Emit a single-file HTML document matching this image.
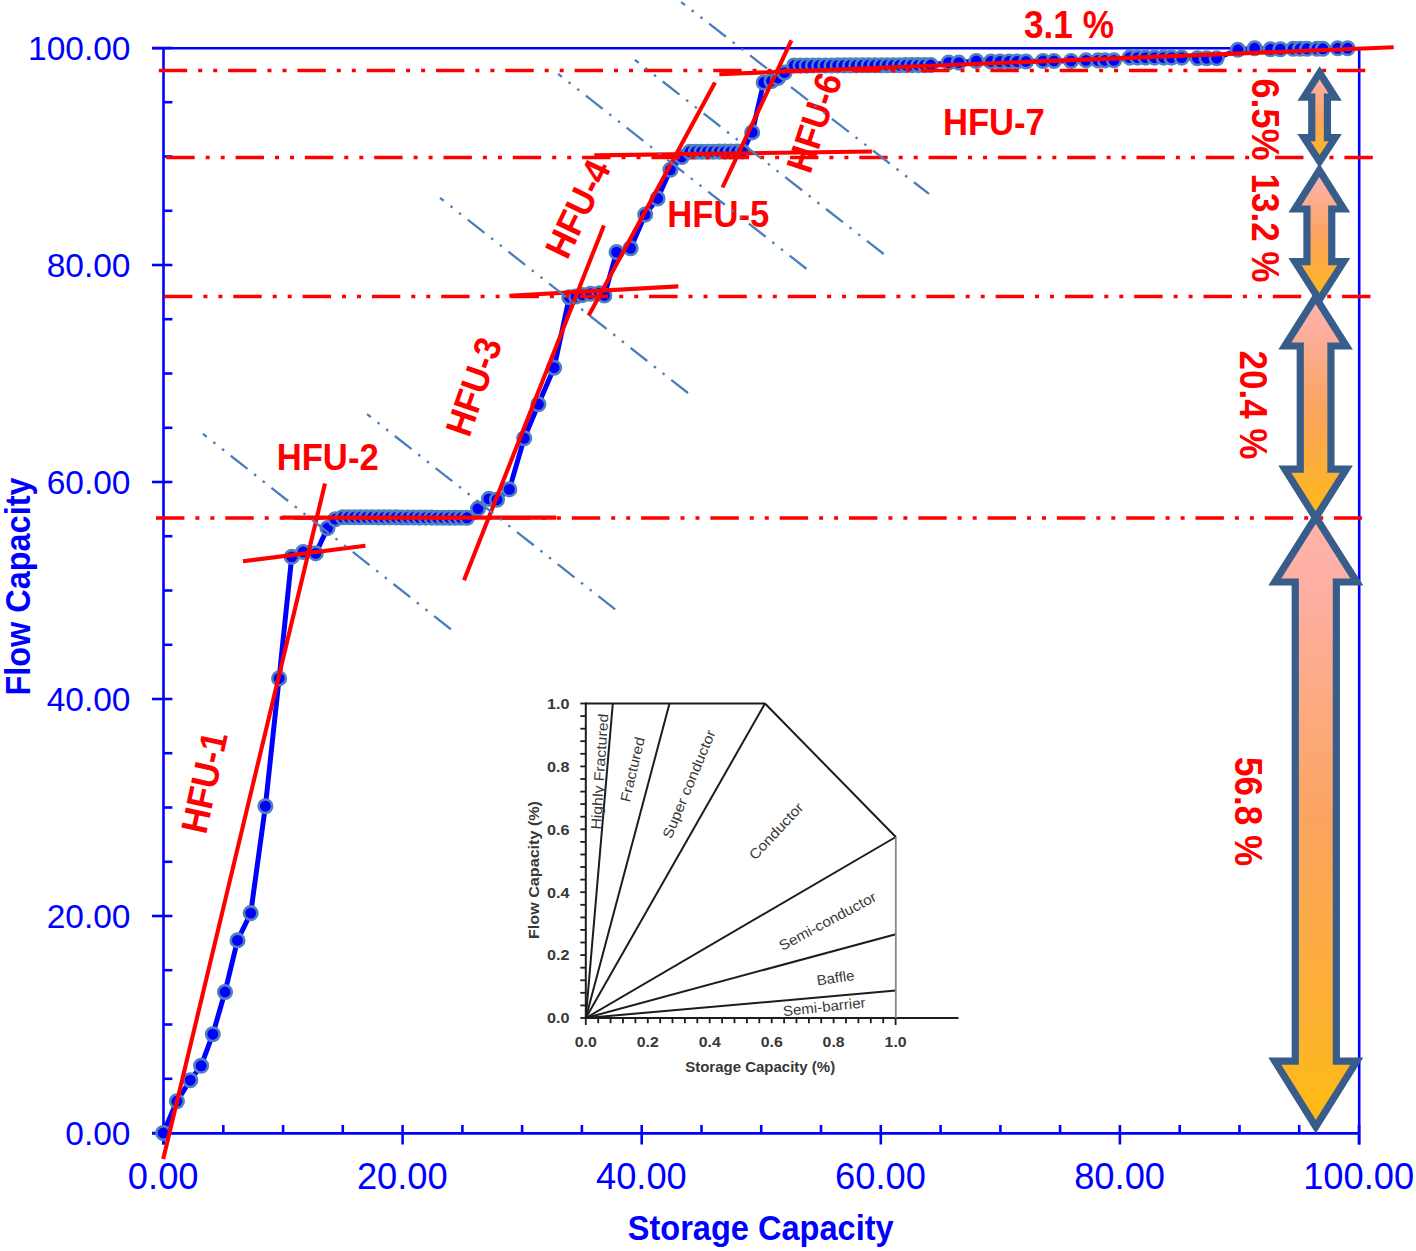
<!DOCTYPE html><html><head><meta charset="utf-8"><style>html,body{margin:0;padding:0;background:#fff;overflow:hidden}svg{display:block}</style></head><body><svg width="1416" height="1251" viewBox="0 0 1416 1251">
<defs><linearGradient id="g" x1="0" y1="0" x2="0" y2="1"><stop offset="0" stop-color="#FFB3AB"/><stop offset="0.12" stop-color="#FDAFA2"/><stop offset="0.5" stop-color="#FBA45F"/><stop offset="0.85" stop-color="#FDB22E"/><stop offset="1" stop-color="#FEBC0F"/></linearGradient></defs>
<rect width="1416" height="1251" fill="#fff"/>
<g stroke="#0000FF" stroke-width="2.6" fill="none">
<line x1="152" y1="48.2" x2="1359.2" y2="48.2"/>
<line x1="1359.2" y1="48.2" x2="1359.2" y2="1144.5"/>
<line x1="163.5" y1="47" x2="163.5" y2="1144.5"/>
<line x1="152" y1="1133.4" x2="1360" y2="1133.4"/>
<line x1="152" y1="1133.0" x2="172.4" y2="1133.0"/>
<line x1="163.5" y1="1078.8" x2="172.4" y2="1078.8"/>
<line x1="163.5" y1="1024.5" x2="172.4" y2="1024.5"/>
<line x1="163.5" y1="970.2" x2="172.4" y2="970.2"/>
<line x1="152" y1="916.0" x2="172.4" y2="916.0"/>
<line x1="163.5" y1="861.8" x2="172.4" y2="861.8"/>
<line x1="163.5" y1="807.5" x2="172.4" y2="807.5"/>
<line x1="163.5" y1="753.2" x2="172.4" y2="753.2"/>
<line x1="152" y1="699.0" x2="172.4" y2="699.0"/>
<line x1="163.5" y1="644.8" x2="172.4" y2="644.8"/>
<line x1="163.5" y1="590.5" x2="172.4" y2="590.5"/>
<line x1="163.5" y1="536.2" x2="172.4" y2="536.2"/>
<line x1="152" y1="482.0" x2="172.4" y2="482.0"/>
<line x1="163.5" y1="427.8" x2="172.4" y2="427.8"/>
<line x1="163.5" y1="373.5" x2="172.4" y2="373.5"/>
<line x1="163.5" y1="319.2" x2="172.4" y2="319.2"/>
<line x1="152" y1="265.0" x2="172.4" y2="265.0"/>
<line x1="163.5" y1="210.8" x2="172.4" y2="210.8"/>
<line x1="163.5" y1="156.5" x2="172.4" y2="156.5"/>
<line x1="163.5" y1="102.2" x2="172.4" y2="102.2"/>
<line x1="152" y1="48.0" x2="172.4" y2="48.0"/>
<line x1="163.5" y1="1125" x2="163.5" y2="1144.5"/>
<line x1="223.3" y1="1125" x2="223.3" y2="1133.0"/>
<line x1="283.1" y1="1125" x2="283.1" y2="1133.0"/>
<line x1="342.8" y1="1125" x2="342.8" y2="1133.0"/>
<line x1="402.6" y1="1125" x2="402.6" y2="1144.5"/>
<line x1="462.4" y1="1125" x2="462.4" y2="1133.0"/>
<line x1="522.1" y1="1125" x2="522.1" y2="1133.0"/>
<line x1="581.9" y1="1125" x2="581.9" y2="1133.0"/>
<line x1="641.7" y1="1125" x2="641.7" y2="1144.5"/>
<line x1="701.5" y1="1125" x2="701.5" y2="1133.0"/>
<line x1="761.2" y1="1125" x2="761.2" y2="1133.0"/>
<line x1="821.0" y1="1125" x2="821.0" y2="1133.0"/>
<line x1="880.8" y1="1125" x2="880.8" y2="1144.5"/>
<line x1="940.6" y1="1125" x2="940.6" y2="1133.0"/>
<line x1="1000.4" y1="1125" x2="1000.4" y2="1133.0"/>
<line x1="1060.1" y1="1125" x2="1060.1" y2="1133.0"/>
<line x1="1119.9" y1="1125" x2="1119.9" y2="1144.5"/>
<line x1="1179.7" y1="1125" x2="1179.7" y2="1133.0"/>
<line x1="1239.5" y1="1125" x2="1239.5" y2="1133.0"/>
<line x1="1299.2" y1="1125" x2="1299.2" y2="1133.0"/>
<line x1="1359.0" y1="1125" x2="1359.0" y2="1144.5"/>
</g>
<g font-family="Liberation Sans" fill="#0000FF" font-size="33.5">
<text x="130.5" y="1144.7" text-anchor="end">0.00</text>
<text x="130.5" y="927.7" text-anchor="end">20.00</text>
<text x="130.5" y="710.7" text-anchor="end">40.00</text>
<text x="130.5" y="493.7" text-anchor="end">60.00</text>
<text x="130.5" y="276.7" text-anchor="end">80.00</text>
<text x="130.5" y="59.7" text-anchor="end">100.00</text>
</g>
<g font-family="Liberation Sans" fill="#0000FF" font-size="36.3" text-anchor="middle">
<text x="163.2" y="1189">0.00</text>
<text x="402.3" y="1189">20.00</text>
<text x="641.4" y="1189">40.00</text>
<text x="880.5" y="1189">60.00</text>
<text x="1119.6" y="1189">80.00</text>
<text x="1358.7" y="1189">100.00</text>
</g>
<text x="760.7" y="1240.2" font-family="Liberation Sans" font-weight="bold" font-size="34.5" fill="#0000FF" text-anchor="middle" textLength="266" lengthAdjust="spacingAndGlyphs">Storage Capacity</text>
<text transform="translate(30.4,586.5) rotate(-90)" font-family="Liberation Sans" font-weight="bold" font-size="35.5" fill="#0000FF" text-anchor="middle" textLength="218" lengthAdjust="spacingAndGlyphs">Flow Capacity</text>
<g stroke="#1c1c1c" stroke-width="2" fill="none" stroke-linecap="butt">
<line x1="585.8" y1="702.5" x2="585.8" y2="1018.0"/>
<line x1="585.8" y1="1018.0" x2="958.5" y2="1018.0"/>
<line x1="585.8" y1="703.5" x2="765" y2="703.5"/>
<line x1="765" y1="703.5" x2="895.8" y2="837"/>
<line x1="585.8" y1="1018.0" x2="612.8" y2="703.5"/>
<line x1="585.8" y1="1018.0" x2="669.5" y2="703.5"/>
<line x1="585.8" y1="1018.0" x2="765.0" y2="703.5"/>
<line x1="585.8" y1="1018.0" x2="895.8" y2="837.0"/>
<line x1="585.8" y1="1018.0" x2="895.8" y2="934.2"/>
<line x1="585.8" y1="1018.0" x2="895.8" y2="990.6"/>
<line x1="580.3" y1="1018.0" x2="585.8" y2="1018.0" stroke-width="1.8"/>
<line x1="585.8" y1="1018.0" x2="585.8" y2="1025" stroke-width="1.8"/>
<line x1="580.3" y1="1005.4" x2="585.8" y2="1005.4" stroke-width="1.8"/>
<line x1="598.2" y1="1018.0" x2="598.2" y2="1023.2" stroke-width="1.8"/>
<line x1="580.3" y1="992.8" x2="585.8" y2="992.8" stroke-width="1.8"/>
<line x1="610.6" y1="1018.0" x2="610.6" y2="1023.2" stroke-width="1.8"/>
<line x1="580.3" y1="980.3" x2="585.8" y2="980.3" stroke-width="1.8"/>
<line x1="623.0" y1="1018.0" x2="623.0" y2="1023.2" stroke-width="1.8"/>
<line x1="580.3" y1="967.7" x2="585.8" y2="967.7" stroke-width="1.8"/>
<line x1="635.4" y1="1018.0" x2="635.4" y2="1023.2" stroke-width="1.8"/>
<line x1="580.3" y1="955.1" x2="585.8" y2="955.1" stroke-width="1.8"/>
<line x1="647.8" y1="1018.0" x2="647.8" y2="1023.2" stroke-width="1.8"/>
<line x1="580.3" y1="942.5" x2="585.8" y2="942.5" stroke-width="1.8"/>
<line x1="660.2" y1="1018.0" x2="660.2" y2="1023.2" stroke-width="1.8"/>
<line x1="580.3" y1="929.9" x2="585.8" y2="929.9" stroke-width="1.8"/>
<line x1="672.5" y1="1018.0" x2="672.5" y2="1023.2" stroke-width="1.8"/>
<line x1="580.3" y1="917.4" x2="585.8" y2="917.4" stroke-width="1.8"/>
<line x1="684.9" y1="1018.0" x2="684.9" y2="1023.2" stroke-width="1.8"/>
<line x1="580.3" y1="904.8" x2="585.8" y2="904.8" stroke-width="1.8"/>
<line x1="697.3" y1="1018.0" x2="697.3" y2="1023.2" stroke-width="1.8"/>
<line x1="580.3" y1="892.2" x2="585.8" y2="892.2" stroke-width="1.8"/>
<line x1="709.7" y1="1018.0" x2="709.7" y2="1023.2" stroke-width="1.8"/>
<line x1="580.3" y1="879.6" x2="585.8" y2="879.6" stroke-width="1.8"/>
<line x1="722.1" y1="1018.0" x2="722.1" y2="1023.2" stroke-width="1.8"/>
<line x1="580.3" y1="867.0" x2="585.8" y2="867.0" stroke-width="1.8"/>
<line x1="734.5" y1="1018.0" x2="734.5" y2="1023.2" stroke-width="1.8"/>
<line x1="580.3" y1="854.5" x2="585.8" y2="854.5" stroke-width="1.8"/>
<line x1="746.9" y1="1018.0" x2="746.9" y2="1023.2" stroke-width="1.8"/>
<line x1="580.3" y1="841.9" x2="585.8" y2="841.9" stroke-width="1.8"/>
<line x1="759.3" y1="1018.0" x2="759.3" y2="1023.2" stroke-width="1.8"/>
<line x1="580.3" y1="829.3" x2="585.8" y2="829.3" stroke-width="1.8"/>
<line x1="771.7" y1="1018.0" x2="771.7" y2="1023.2" stroke-width="1.8"/>
<line x1="580.3" y1="816.7" x2="585.8" y2="816.7" stroke-width="1.8"/>
<line x1="784.1" y1="1018.0" x2="784.1" y2="1023.2" stroke-width="1.8"/>
<line x1="580.3" y1="804.1" x2="585.8" y2="804.1" stroke-width="1.8"/>
<line x1="796.5" y1="1018.0" x2="796.5" y2="1023.2" stroke-width="1.8"/>
<line x1="580.3" y1="791.6" x2="585.8" y2="791.6" stroke-width="1.8"/>
<line x1="808.9" y1="1018.0" x2="808.9" y2="1023.2" stroke-width="1.8"/>
<line x1="580.3" y1="779.0" x2="585.8" y2="779.0" stroke-width="1.8"/>
<line x1="821.2" y1="1018.0" x2="821.2" y2="1023.2" stroke-width="1.8"/>
<line x1="580.3" y1="766.4" x2="585.8" y2="766.4" stroke-width="1.8"/>
<line x1="833.6" y1="1018.0" x2="833.6" y2="1023.2" stroke-width="1.8"/>
<line x1="580.3" y1="753.8" x2="585.8" y2="753.8" stroke-width="1.8"/>
<line x1="846.0" y1="1018.0" x2="846.0" y2="1023.2" stroke-width="1.8"/>
<line x1="580.3" y1="741.2" x2="585.8" y2="741.2" stroke-width="1.8"/>
<line x1="858.4" y1="1018.0" x2="858.4" y2="1023.2" stroke-width="1.8"/>
<line x1="580.3" y1="728.7" x2="585.8" y2="728.7" stroke-width="1.8"/>
<line x1="870.8" y1="1018.0" x2="870.8" y2="1023.2" stroke-width="1.8"/>
<line x1="580.3" y1="716.1" x2="585.8" y2="716.1" stroke-width="1.8"/>
<line x1="883.2" y1="1018.0" x2="883.2" y2="1023.2" stroke-width="1.8"/>
<line x1="580.3" y1="703.5" x2="585.8" y2="703.5" stroke-width="1.8"/>
<line x1="895.6" y1="1018.0" x2="895.6" y2="1025" stroke-width="1.8"/>
</g>
<line x1="895.8" y1="837" x2="895.8" y2="1018" stroke="#888" stroke-width="1.8"/>
<g font-family="Liberation Sans" font-weight="bold" fill="#383838" font-size="14.6">
<text x="569.5" y="1023.3" text-anchor="end" textLength="22.5" lengthAdjust="spacingAndGlyphs">0.0</text>
<text x="585.8" y="1046.6" text-anchor="middle" textLength="22" lengthAdjust="spacingAndGlyphs">0.0</text>
<text x="569.5" y="960.4" text-anchor="end" textLength="22.5" lengthAdjust="spacingAndGlyphs">0.2</text>
<text x="647.8" y="1046.6" text-anchor="middle" textLength="22" lengthAdjust="spacingAndGlyphs">0.2</text>
<text x="569.5" y="897.5" text-anchor="end" textLength="22.5" lengthAdjust="spacingAndGlyphs">0.4</text>
<text x="709.7" y="1046.6" text-anchor="middle" textLength="22" lengthAdjust="spacingAndGlyphs">0.4</text>
<text x="569.5" y="834.6" text-anchor="end" textLength="22.5" lengthAdjust="spacingAndGlyphs">0.6</text>
<text x="771.7" y="1046.6" text-anchor="middle" textLength="22" lengthAdjust="spacingAndGlyphs">0.6</text>
<text x="569.5" y="771.7" text-anchor="end" textLength="22.5" lengthAdjust="spacingAndGlyphs">0.8</text>
<text x="833.6" y="1046.6" text-anchor="middle" textLength="22" lengthAdjust="spacingAndGlyphs">0.8</text>
<text x="569.5" y="708.8" text-anchor="end" textLength="22.5" lengthAdjust="spacingAndGlyphs">1.0</text>
<text x="895.6" y="1046.6" text-anchor="middle" textLength="22" lengthAdjust="spacingAndGlyphs">1.0</text>
</g>
<text x="760.2" y="1071.8" font-family="Liberation Sans" font-weight="bold" font-size="14.3" fill="#383838" text-anchor="middle" textLength="150" lengthAdjust="spacingAndGlyphs">Storage Capacity (%)</text>
<text transform="translate(538.6,870) rotate(-90)" font-family="Liberation Sans" font-weight="bold" font-size="14.3" fill="#383838" text-anchor="middle" textLength="138" lengthAdjust="spacingAndGlyphs">Flow Capacity (%)</text>
<text transform="translate(599.5,771.6) rotate(-86.2)" font-family="Liberation Sans" font-size="14.3" fill="#383838" text-anchor="middle" dy="5" textLength="116" lengthAdjust="spacingAndGlyphs">Highly  Fractured</text>
<text transform="translate(632.4,769.4) rotate(-76.7)" font-family="Liberation Sans" font-size="14.3" fill="#383838" text-anchor="middle" dy="5" textLength="66" lengthAdjust="spacingAndGlyphs">Fractured</text>
<text transform="translate(688.9,784.1) rotate(-67.4)" font-family="Liberation Sans" font-size="14.3" fill="#383838" text-anchor="middle" dy="5" textLength="116" lengthAdjust="spacingAndGlyphs">Super conductor</text>
<text transform="translate(776.1,831.1) rotate(-46.9)" font-family="Liberation Sans" font-size="14.3" fill="#383838" text-anchor="middle" dy="5" textLength="72" lengthAdjust="spacingAndGlyphs">Conductor</text>
<text transform="translate(827.6,921.1) rotate(-28.2)" font-family="Liberation Sans" font-size="14.3" fill="#383838" text-anchor="middle" dy="5" textLength="108" lengthAdjust="spacingAndGlyphs">Semi-conductor</text>
<text transform="translate(835.5,977.8) rotate(-8.4)" font-family="Liberation Sans" font-size="14.3" fill="#383838" text-anchor="middle" dy="5" textLength="38" lengthAdjust="spacingAndGlyphs">Baffle</text>
<text transform="translate(824.2,1006.7) rotate(-6.2)" font-family="Liberation Sans" font-size="14.3" fill="#383838" text-anchor="middle" dy="5" textLength="83" lengthAdjust="spacingAndGlyphs">Semi-barrier</text>
<polyline fill="none" stroke="#0000FF" stroke-width="5" stroke-linejoin="round" points="163.2,1133.0 176.9,1101.3 190.3,1080.2 201.1,1065.8 212.8,1034.2 225.0,992.0 237.5,940.4 250.7,913.1 265.4,806.2 279.1,678.4 291.7,556.9 303.2,552.0 315.7,553.4 327.5,528.1 335.2,519.2 342.9,517.3 348.6,517.2 354.5,517.2 360.4,517.3 366.4,517.3 372.3,517.3 378.2,517.4 384.1,517.4 390.0,517.4 396.0,517.4 401.9,517.5 407.8,517.5 413.7,517.5 419.6,517.6 425.6,517.6 431.5,517.6 437.4,517.7 443.3,517.7 449.2,517.7 455.2,517.7 461.1,517.8 467.0,517.8 478.0,508.6 488.9,498.9 497.0,499.7 509.3,489.4 524.2,438.3 538.4,404.3 554.1,367.7 569.3,297.2 576.0,296.5 582.5,295.0 590.6,293.7 599.5,293.2 604.4,295.5 616.6,252.1 630.6,248.3 645.2,214.6 657.6,198.5 670.4,169.8 681.8,157.0 690.0,151.8 695.8,151.8 701.7,151.7 707.5,151.7 713.3,151.7 719.2,151.6 725.0,151.6 730.8,151.6 736.7,151.5 742.5,151.5 752.2,132.4 763.7,82.5 771.6,81.0 778.0,78.0 784.6,72.6 794.2,65.5 800.5,65.6 806.7,65.6 812.9,65.5 819.1,65.5 825.3,65.5 831.5,65.5 837.7,65.4 843.9,65.4 850.1,65.4 856.3,65.4 862.5,65.3 868.7,65.3 874.9,65.3 881.1,65.2 887.3,65.2 893.5,65.2 899.7,65.2 905.9,65.1 912.1,65.1 918.3,65.1 924.5,65.1 930.7,65.0 948.6,62.6 958.8,62.6 976.3,61.0 991.0,61.5 1000.0,61.5 1009.0,61.5 1017.0,61.5 1026.0,61.5 1043.0,61.0 1054.0,61.0 1071.0,61.0 1086.0,60.4 1098.0,60.4 1105.0,60.4 1114.0,60.4 1129.7,57.6 1137.6,57.6 1145.5,57.6 1154.6,57.6 1163.6,57.6 1171.5,57.6 1181.7,57.6 1197.5,58.2 1206.6,58.2 1216.7,58.2 1237.9,49.8 1254.7,48.3 1270.5,49.3 1280.4,49.3 1293.2,48.8 1300.1,48.8 1307.1,48.8 1317.0,48.8 1322.9,48.8 1337.7,48.3 1347.6,48.3"/>
<g fill="#0000FF" stroke="#4F81BD" stroke-width="2.6">
<circle cx="163.2" cy="1133.0" r="6.75"/>
<circle cx="176.9" cy="1101.3" r="6.75"/>
<circle cx="190.3" cy="1080.2" r="6.75"/>
<circle cx="201.1" cy="1065.8" r="6.75"/>
<circle cx="212.8" cy="1034.2" r="6.75"/>
<circle cx="225.0" cy="992.0" r="6.75"/>
<circle cx="237.5" cy="940.4" r="6.75"/>
<circle cx="250.7" cy="913.1" r="6.75"/>
<circle cx="265.4" cy="806.2" r="6.75"/>
<circle cx="279.1" cy="678.4" r="6.75"/>
<circle cx="291.7" cy="556.9" r="6.75"/>
<circle cx="303.2" cy="552.0" r="6.75"/>
<circle cx="315.7" cy="553.4" r="6.75"/>
<circle cx="327.5" cy="528.1" r="6.75"/>
<circle cx="335.2" cy="519.2" r="6.75"/>
<circle cx="342.9" cy="517.3" r="6.75"/>
<circle cx="348.6" cy="517.2" r="6.75"/>
<circle cx="354.5" cy="517.2" r="6.75"/>
<circle cx="360.4" cy="517.3" r="6.75"/>
<circle cx="366.4" cy="517.3" r="6.75"/>
<circle cx="372.3" cy="517.3" r="6.75"/>
<circle cx="378.2" cy="517.4" r="6.75"/>
<circle cx="384.1" cy="517.4" r="6.75"/>
<circle cx="390.0" cy="517.4" r="6.75"/>
<circle cx="396.0" cy="517.4" r="6.75"/>
<circle cx="401.9" cy="517.5" r="6.75"/>
<circle cx="407.8" cy="517.5" r="6.75"/>
<circle cx="413.7" cy="517.5" r="6.75"/>
<circle cx="419.6" cy="517.6" r="6.75"/>
<circle cx="425.6" cy="517.6" r="6.75"/>
<circle cx="431.5" cy="517.6" r="6.75"/>
<circle cx="437.4" cy="517.7" r="6.75"/>
<circle cx="443.3" cy="517.7" r="6.75"/>
<circle cx="449.2" cy="517.7" r="6.75"/>
<circle cx="455.2" cy="517.7" r="6.75"/>
<circle cx="461.1" cy="517.8" r="6.75"/>
<circle cx="467.0" cy="517.8" r="6.75"/>
<circle cx="478.0" cy="508.6" r="6.75"/>
<circle cx="488.9" cy="498.9" r="6.75"/>
<circle cx="497.0" cy="499.7" r="6.75"/>
<circle cx="509.3" cy="489.4" r="6.75"/>
<circle cx="524.2" cy="438.3" r="6.75"/>
<circle cx="538.4" cy="404.3" r="6.75"/>
<circle cx="554.1" cy="367.7" r="6.75"/>
<circle cx="569.3" cy="297.2" r="6.75"/>
<circle cx="576.0" cy="296.5" r="6.75"/>
<circle cx="582.5" cy="295.0" r="6.75"/>
<circle cx="590.6" cy="293.7" r="6.75"/>
<circle cx="599.5" cy="293.2" r="6.75"/>
<circle cx="604.4" cy="295.5" r="6.75"/>
<circle cx="616.6" cy="252.1" r="6.75"/>
<circle cx="630.6" cy="248.3" r="6.75"/>
<circle cx="645.2" cy="214.6" r="6.75"/>
<circle cx="657.6" cy="198.5" r="6.75"/>
<circle cx="670.4" cy="169.8" r="6.75"/>
<circle cx="681.8" cy="157.0" r="6.75"/>
<circle cx="690.0" cy="151.8" r="6.75"/>
<circle cx="695.8" cy="151.8" r="6.75"/>
<circle cx="701.7" cy="151.7" r="6.75"/>
<circle cx="707.5" cy="151.7" r="6.75"/>
<circle cx="713.3" cy="151.7" r="6.75"/>
<circle cx="719.2" cy="151.6" r="6.75"/>
<circle cx="725.0" cy="151.6" r="6.75"/>
<circle cx="730.8" cy="151.6" r="6.75"/>
<circle cx="736.7" cy="151.5" r="6.75"/>
<circle cx="742.5" cy="151.5" r="6.75"/>
<circle cx="752.2" cy="132.4" r="6.75"/>
<circle cx="763.7" cy="82.5" r="6.75"/>
<circle cx="771.6" cy="81.0" r="6.75"/>
<circle cx="778.0" cy="78.0" r="6.75"/>
<circle cx="784.6" cy="72.6" r="6.75"/>
<circle cx="794.2" cy="65.5" r="6.75"/>
<circle cx="800.5" cy="65.6" r="6.75"/>
<circle cx="806.7" cy="65.6" r="6.75"/>
<circle cx="812.9" cy="65.5" r="6.75"/>
<circle cx="819.1" cy="65.5" r="6.75"/>
<circle cx="825.3" cy="65.5" r="6.75"/>
<circle cx="831.5" cy="65.5" r="6.75"/>
<circle cx="837.7" cy="65.4" r="6.75"/>
<circle cx="843.9" cy="65.4" r="6.75"/>
<circle cx="850.1" cy="65.4" r="6.75"/>
<circle cx="856.3" cy="65.4" r="6.75"/>
<circle cx="862.5" cy="65.3" r="6.75"/>
<circle cx="868.7" cy="65.3" r="6.75"/>
<circle cx="874.9" cy="65.3" r="6.75"/>
<circle cx="881.1" cy="65.2" r="6.75"/>
<circle cx="887.3" cy="65.2" r="6.75"/>
<circle cx="893.5" cy="65.2" r="6.75"/>
<circle cx="899.7" cy="65.2" r="6.75"/>
<circle cx="905.9" cy="65.1" r="6.75"/>
<circle cx="912.1" cy="65.1" r="6.75"/>
<circle cx="918.3" cy="65.1" r="6.75"/>
<circle cx="924.5" cy="65.1" r="6.75"/>
<circle cx="930.7" cy="65.0" r="6.75"/>
<circle cx="948.6" cy="62.6" r="6.75"/>
<circle cx="958.8" cy="62.6" r="6.75"/>
<circle cx="976.3" cy="61.0" r="6.75"/>
<circle cx="991.0" cy="61.5" r="6.75"/>
<circle cx="1000.0" cy="61.5" r="6.75"/>
<circle cx="1009.0" cy="61.5" r="6.75"/>
<circle cx="1017.0" cy="61.5" r="6.75"/>
<circle cx="1026.0" cy="61.5" r="6.75"/>
<circle cx="1043.0" cy="61.0" r="6.75"/>
<circle cx="1054.0" cy="61.0" r="6.75"/>
<circle cx="1071.0" cy="61.0" r="6.75"/>
<circle cx="1086.0" cy="60.4" r="6.75"/>
<circle cx="1098.0" cy="60.4" r="6.75"/>
<circle cx="1105.0" cy="60.4" r="6.75"/>
<circle cx="1114.0" cy="60.4" r="6.75"/>
<circle cx="1129.7" cy="57.6" r="6.75"/>
<circle cx="1137.6" cy="57.6" r="6.75"/>
<circle cx="1145.5" cy="57.6" r="6.75"/>
<circle cx="1154.6" cy="57.6" r="6.75"/>
<circle cx="1163.6" cy="57.6" r="6.75"/>
<circle cx="1171.5" cy="57.6" r="6.75"/>
<circle cx="1181.7" cy="57.6" r="6.75"/>
<circle cx="1197.5" cy="58.2" r="6.75"/>
<circle cx="1206.6" cy="58.2" r="6.75"/>
<circle cx="1216.7" cy="58.2" r="6.75"/>
<circle cx="1237.9" cy="49.8" r="6.75"/>
<circle cx="1254.7" cy="48.3" r="6.75"/>
<circle cx="1270.5" cy="49.3" r="6.75"/>
<circle cx="1280.4" cy="49.3" r="6.75"/>
<circle cx="1293.2" cy="48.8" r="6.75"/>
<circle cx="1300.1" cy="48.8" r="6.75"/>
<circle cx="1307.1" cy="48.8" r="6.75"/>
<circle cx="1317.0" cy="48.8" r="6.75"/>
<circle cx="1322.9" cy="48.8" r="6.75"/>
<circle cx="1337.7" cy="48.3" r="6.75"/>
<circle cx="1347.6" cy="48.3" r="6.75"/>
</g>
<line x1="158.8" y1="70.5" x2="1366" y2="70.5" stroke="#FF0000" stroke-width="3.6" stroke-dasharray="28.4 11 4 11 4 10.9"/>
<line x1="166.3" y1="157.5" x2="1373.5" y2="157.5" stroke="#FF0000" stroke-width="3.6" stroke-dasharray="28.4 11 4 11 4 10.9"/>
<line x1="164" y1="296.5" x2="1371" y2="296.5" stroke="#FF0000" stroke-width="3.6" stroke-dasharray="28.4 11 4 11 4 10.9"/>
<line x1="156" y1="518" x2="1362" y2="518" stroke="#FF0000" stroke-width="3.6" stroke-dasharray="28.4 11 4 11 4 10.9"/>
<g stroke="#FF0000" stroke-width="4.1" stroke-linecap="butt">
<line x1="163.2" y1="1159" x2="325" y2="483.5"/>
<line x1="243" y1="561.2" x2="365.4" y2="545.8"/>
<line x1="281.7" y1="517.6" x2="556.3" y2="517.6"/>
<line x1="464" y1="580.3" x2="603.9" y2="225.4"/>
<line x1="509.3" y1="295.7" x2="678.3" y2="286.4"/>
<line x1="588.6" y1="315.7" x2="715" y2="82.6"/>
<line x1="594.3" y1="155.4" x2="871.9" y2="151.5"/>
<line x1="722.5" y1="187.5" x2="791.4" y2="40.3"/>
<line x1="719.3" y1="74.2" x2="1393.7" y2="47.3"/>
</g>
<text transform="translate(327.7,457.1) rotate(0)" font-family="Liberation Sans" font-weight="bold" font-size="37.3" fill="#FF0000" text-anchor="middle" dy="13.35" textLength="102" lengthAdjust="spacingAndGlyphs">HFU-2</text>
<text transform="translate(718.3,213.2) rotate(0)" font-family="Liberation Sans" font-weight="bold" font-size="37.3" fill="#FF0000" text-anchor="middle" dy="13.35" textLength="102" lengthAdjust="spacingAndGlyphs">HFU-5</text>
<text transform="translate(993.9,121.6) rotate(0)" font-family="Liberation Sans" font-weight="bold" font-size="37.3" fill="#FF0000" text-anchor="middle" dy="13.35" textLength="102" lengthAdjust="spacingAndGlyphs">HFU-7</text>
<text transform="translate(203.8,782.3) rotate(-77.7)" font-family="Liberation Sans" font-weight="bold" font-size="37.3" fill="#FF0000" text-anchor="middle" dy="13.35" textLength="102.5" lengthAdjust="spacingAndGlyphs">HFU-1</text>
<text transform="translate(473.2,386.5) rotate(-70.8)" font-family="Liberation Sans" font-weight="bold" font-size="37.3" fill="#FF0000" text-anchor="middle" dy="13.35" textLength="101" lengthAdjust="spacingAndGlyphs">HFU-3</text>
<text transform="translate(577.4,208.6) rotate(-64.4)" font-family="Liberation Sans" font-weight="bold" font-size="37.3" fill="#FF0000" text-anchor="middle" dy="13.35" textLength="103" lengthAdjust="spacingAndGlyphs">HFU-4</text>
<text transform="translate(813.7,122.5) rotate(-71.6)" font-family="Liberation Sans" font-weight="bold" font-size="37.3" fill="#FF0000" text-anchor="middle" dy="13.35" textLength="102" lengthAdjust="spacingAndGlyphs">HFU-6</text>
<text transform="translate(1069,24.5) rotate(0)" font-family="Liberation Sans" font-weight="bold" font-size="38" fill="#FF0000" text-anchor="middle" dy="13.60" textLength="90" lengthAdjust="spacingAndGlyphs">3.1 %</text>
<text transform="translate(1265.8,119.5) rotate(90)" font-family="Liberation Sans" font-weight="bold" font-size="38" fill="#FF0000" text-anchor="middle" dy="13.60" textLength="82" lengthAdjust="spacingAndGlyphs">6.5%</text>
<text transform="translate(1265.8,228) rotate(90)" font-family="Liberation Sans" font-weight="bold" font-size="38" fill="#FF0000" text-anchor="middle" dy="13.60" textLength="109" lengthAdjust="spacingAndGlyphs">13.2 %</text>
<text transform="translate(1253.7,405) rotate(90)" font-family="Liberation Sans" font-weight="bold" font-size="38" fill="#FF0000" text-anchor="middle" dy="13.60" textLength="109" lengthAdjust="spacingAndGlyphs">20.4 %</text>
<text transform="translate(1248.8,811.6) rotate(90)" font-family="Liberation Sans" font-weight="bold" font-size="38" fill="#FF0000" text-anchor="middle" dy="13.60" textLength="109" lengthAdjust="spacingAndGlyphs">56.8 %</text>
<g stroke="#4A7EBB" stroke-width="2.3" stroke-dasharray="21.3 8.5 2.5 8.5 2.5 8.5" stroke-dashoffset="16.5">
<line x1="203" y1="433.9" x2="451.2" y2="629.5"/>
<line x1="367.1" y1="414.2" x2="616.3" y2="610.2"/>
<line x1="440" y1="197.8" x2="688.6" y2="393.5"/>
<line x1="558.1" y1="73.9" x2="808" y2="270"/>
<line x1="634.9" y1="59.8" x2="885" y2="255"/>
<line x1="681.2" y1="2.1" x2="929" y2="193.9"/>
</g>
<path d="M1319.6,72.8 L1335.20,97.1 L1327.45,97.1 L1327.45,137.6 L1335.20,137.6 L1319.6,161.5 L1304.00,137.6 L1311.75,137.6 L1311.75,97.1 L1304.00,97.1 Z" fill="url(#g)" stroke="#385D8A" stroke-width="7.2" stroke-linejoin="miter" stroke-miterlimit="10"/>
<path d="M1319.35,170.2 L1343.75,209 L1331.75,209 L1331.75,261.6 L1343.75,261.6 L1319.35,299.7 L1294.95,261.6 L1306.95,261.6 L1306.95,209 L1294.95,209 Z" fill="url(#g)" stroke="#385D8A" stroke-width="7.2" stroke-linejoin="miter" stroke-miterlimit="10"/>
<path d="M1315.6,297.3 L1346.35,346 L1330.95,346 L1330.95,469.2 L1346.35,469.2 L1315.6,517.9 L1284.85,469.2 L1300.25,469.2 L1300.25,346 L1284.85,346 Z" fill="url(#g)" stroke="#385D8A" stroke-width="7.2" stroke-linejoin="miter" stroke-miterlimit="10"/>
<path d="M1315.8,517.1 L1356.80,582 L1336.35,582 L1336.35,1061.2 L1356.80,1061.2 L1315.8,1126.7 L1274.80,1061.2 L1295.25,1061.2 L1295.25,582 L1274.80,582 Z" fill="url(#g)" stroke="#385D8A" stroke-width="7.2" stroke-linejoin="miter" stroke-miterlimit="10"/>
</svg></body></html>
